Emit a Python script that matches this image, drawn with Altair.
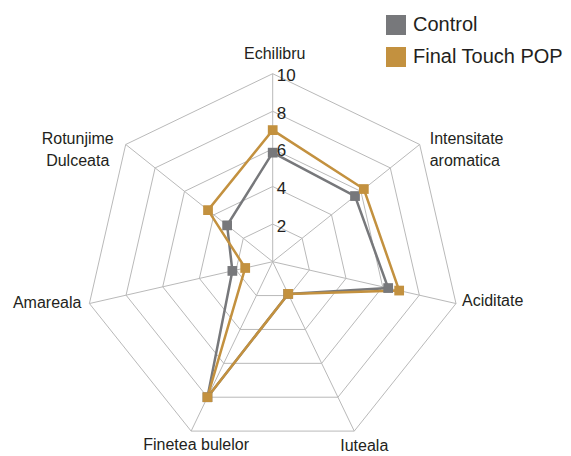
import altair as alt
import pandas as pd

# ---------------- data ----------------
categories = ["Echilibru", "Intensitate aromatica", "Aciditate", "Iuteala",
              "Finetea bulelor", "Amareala", "Rotunjime Dulceata"]
category_labels = ["Echilibru", "Intensitate\naromatica", "Aciditate", "Iuteala",
                   "Finetea bulelor", "Amareala", "Rotunjime\nDulceata"]
series = ["Control", "Final Touch POP"]
control = [5.8, 5.6, 6.3, 1.9, 8.0, 2.2, 3.1]
final_touch = [7.0, 6.2, 6.9, 1.9, 8.0, 1.5, 4.4]
grid_levels = [2, 4, 6, 8, 10]
tick_labels = ["2", "4", "6", "8", "10"]

# ---------------- styles ----------------
colors = ["#77787b", "#c3913f"]
GRID_COLOR = "#b9b9b9"
TEXT_COLOR = "#231f20"
FONT = "Liberation Sans"
N = len(categories)
W, H = 555, 448
PX_PER_UNIT = 18.8
CX, CY = 264.7, 253.7  # centre of the web inside the plot area, px
x_scale = alt.Scale(domain=[-CX / PX_PER_UNIT, (W - CX) / PX_PER_UNIT], nice=False, zero=False)
y_scale = alt.Scale(domain=[-(H - CY) / PX_PER_UNIT, CY / PX_PER_UNIT], nice=False, zero=False)
R_MAX = max(grid_levels)

label_style = {
    "Echilibru": dict(align="center", dx=2, dy=-15),
    "Intensitate aromatica": dict(align="left", dx=10, dy=0),
    "Aciditate": dict(align="left", dx=6, dy=2),
    "Iuteala": dict(align="center", dx=10, dy=20),
    "Finetea bulelor": dict(align="center", dx=5, dy=19),
    "Amareala": dict(align="right", dx=-8, dy=4),
    "Rotunjime Dulceata": dict(align="center", dx=-48, dy=0),
}

# ---------------- tables ----------------
values_df = pd.DataFrame({
    "series": [s for s in series for _ in categories],
    "idx": list(range(N)) * len(series),
    "category": categories * len(series),
    "value": control + final_touch,
})
grid_df = pd.DataFrame({
    "level": [lv for lv in grid_levels for _ in range(N)],
    "idx": list(range(N)) * len(grid_levels),
})
spoke_df = pd.DataFrame({"idx": list(range(N)), "category": categories,
                         "label": category_labels, "r": [R_MAX] * N})
tick_df = pd.DataFrame({"level": grid_levels, "text": tick_labels})

ang = f"datum.idx * 2 * PI / {N}"


def X(field):
    return alt.X(field, type="quantitative", scale=x_scale, axis=None)


def Y(field):
    return alt.Y(field, type="quantitative", scale=y_scale, axis=None)


legend = alt.Legend(title=None, orient="none", legendX=378, legendY=7,
                    symbolType="square", symbolSize=400,
                    labelFontSize=20, labelFont=FONT, labelLimit=300,
                    labelColor=TEXT_COLOR, rowPadding=12,
                    labelOffset=7, padding=0,
                    symbolStrokeWidth=0, symbolOpacity=1)
color_enc = alt.Color("series:N", scale=alt.Scale(domain=series, range=colors), legend=legend)

grid = alt.Chart(grid_df).transform_calculate(
    gx=f"datum.level * sin({ang})", gy=f"datum.level * cos({ang})"
).mark_line(interpolate="linear-closed", color=GRID_COLOR, strokeWidth=1).encode(
    x=X("gx"), y=Y("gy"), detail="level:N", order="idx:Q")

spokes = alt.Chart(spoke_df).transform_calculate(
    sx=f"datum.r * sin({ang})", sy=f"datum.r * cos({ang})", zero="0"
).mark_rule(color=GRID_COLOR, strokeWidth=1).encode(
    x=X("zero"), y=Y("zero"), x2="sx:Q", y2="sy:Q")

points = alt.Chart(values_df).transform_calculate(
    px=f"datum.value * sin({ang})", py=f"datum.value * cos({ang})"
).mark_point(shape="square", filled=True, size=95, opacity=1).encode(
    x=X("px"), y=Y("py"), color=color_enc)

lines = alt.Chart(values_df).transform_calculate(
    px=f"datum.value * sin({ang})", py=f"datum.value * cos({ang})"
).mark_line(interpolate="linear-closed", strokeWidth=2.5).encode(
    x=X("px"), y=Y("py"), color=color_enc, detail="series:N", order="idx:Q")

ticks = alt.Chart(tick_df).transform_calculate(zero="0").mark_text(
    align="left", baseline="middle", dx=4, dy=2.5, fontSize=17, font=FONT,
    color=TEXT_COLOR).encode(x=X("zero"), y=Y("level"), text="text:N")

label_layers = []
for cat in categories:
    st = label_style[cat]
    label_layers.append(
        alt.Chart(spoke_df).transform_filter(alt.datum.category == cat).transform_calculate(
            lx=f"datum.r * sin({ang})", ly=f"datum.r * cos({ang})"
        ).mark_text(align=st["align"], baseline="alphabetic", dx=st["dx"], dy=st["dy"],
                    fontSize=16, font=FONT, color=TEXT_COLOR, lineBreak="\n",
                    lineHeight=22).encode(x=X("lx"), y=Y("ly"), text="label:N"))

chart = alt.layer(grid, spokes, lines, points, ticks, *label_layers).properties(
    width=W, height=H, padding=0, autosize=alt.AutoSizeParams(type="none")
).configure_view(stroke=None)

chart.save("out.html", embed_options={"renderer": "svg", "actions": False})
